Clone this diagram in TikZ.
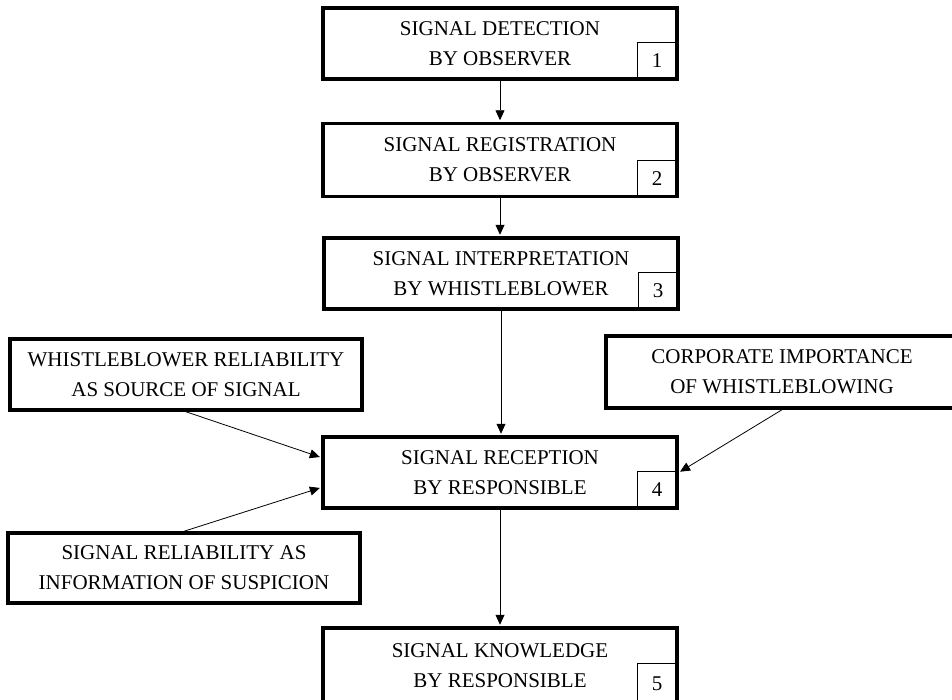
\documentclass[tikz,border=0pt]{standalone}
\usepackage{fontspec}
\setmainfont{Liberation Serif}
\usetikzlibrary{arrows.meta}
\begin{document}
\begin{tikzpicture}[x=1pt,y=-1pt,
  mainbox/.style={draw,line width=3.5pt,rectangle,inner sep=0pt,align=center,
    font=\fontsize{21}{30}\selectfont,fill=white},
  numbox/.style={draw,line width=0.8pt,rectangle,inner sep=0pt,
    minimum width=39pt,minimum height=36pt,font=\fontsize{21}{24}\selectfont,anchor=south east},
  conn/.style={line width=0.8pt,-{Triangle[length=10pt,width=9pt]},shorten >=1.5pt}]
\useasboundingbox (0,0) rectangle (952,699);
\begin{scope}
\clip (0,0) rectangle (952,699);
\node[mainbox,minimum width=354pt,minimum height=71pt] (b1) at (500,43.5) {SIGNAL DETECTION\\BY OBSERVER};
\node[mainbox,minimum width=354pt,minimum height=73pt] (b2) at (500,160) {SIGNAL REGISTRATION\\BY OBSERVER};
\node[mainbox,minimum width=354pt,minimum height=71pt] (b3) at (501,273.5) {SIGNAL INTERPRETATION\\BY WHISTLEBLOWER};
\node[mainbox,minimum width=354pt,minimum height=71pt] (b4) at (500,472.5) {SIGNAL RECEPTION\\BY RESPONSIBLE};
\node[mainbox,minimum width=354pt,minimum height=76pt] (b5) at (500,666) {SIGNAL KNOWLEDGE\\BY RESPONSIBLE};
\node[mainbox,minimum width=352pt,minimum height=71pt] (wr) at (186,374.5) {WHISTLEBLOWER RELIABILITY\\AS SOURCE OF SIGNAL};
\node[mainbox,minimum width=352pt,minimum height=70pt] (sr) at (184,568) {SIGNAL RELIABILITY AS\\INFORMATION OF SUSPICION};
\node[mainbox,minimum width=352pt,minimum height=72pt] (ci) at (782,372) {CORPORATE IMPORTANCE\\OF WHISTLEBLOWING};
\node[numbox] (n1) at ([xshift=-1.7pt,yshift=1.7pt]b1.south east) {1};
\node[numbox] (n2) at ([xshift=-1.7pt,yshift=1.7pt]b2.south east) {2};
\node[numbox] (n3) at ([xshift=-1.7pt,yshift=1.7pt]b3.south east) {3};
\node[numbox] (n4) at ([xshift=-1.7pt,yshift=1.7pt]b4.south east) {4};
\node[numbox,minimum height=40pt] (n5) at ([xshift=-1.7pt,yshift=1.7pt]b5.south east) {5};
\draw[conn] (b1.south) -- (b2.north);
\draw[conn] (b2.south) -- (b2.south |- b3.north);
\draw[conn] (b3.south) -- (b3.south |- b4.north);
\draw[conn] (b4.south) -- (b5.north);
\draw[conn] (wr.south) -- ([yshift=15pt]b4.west);
\draw[conn] (sr.north) -- ([yshift=-15pt]b4.west);
\draw[conn] (ci.south) -- (b4.east);
\end{scope}
\end{tikzpicture}
\end{document}
